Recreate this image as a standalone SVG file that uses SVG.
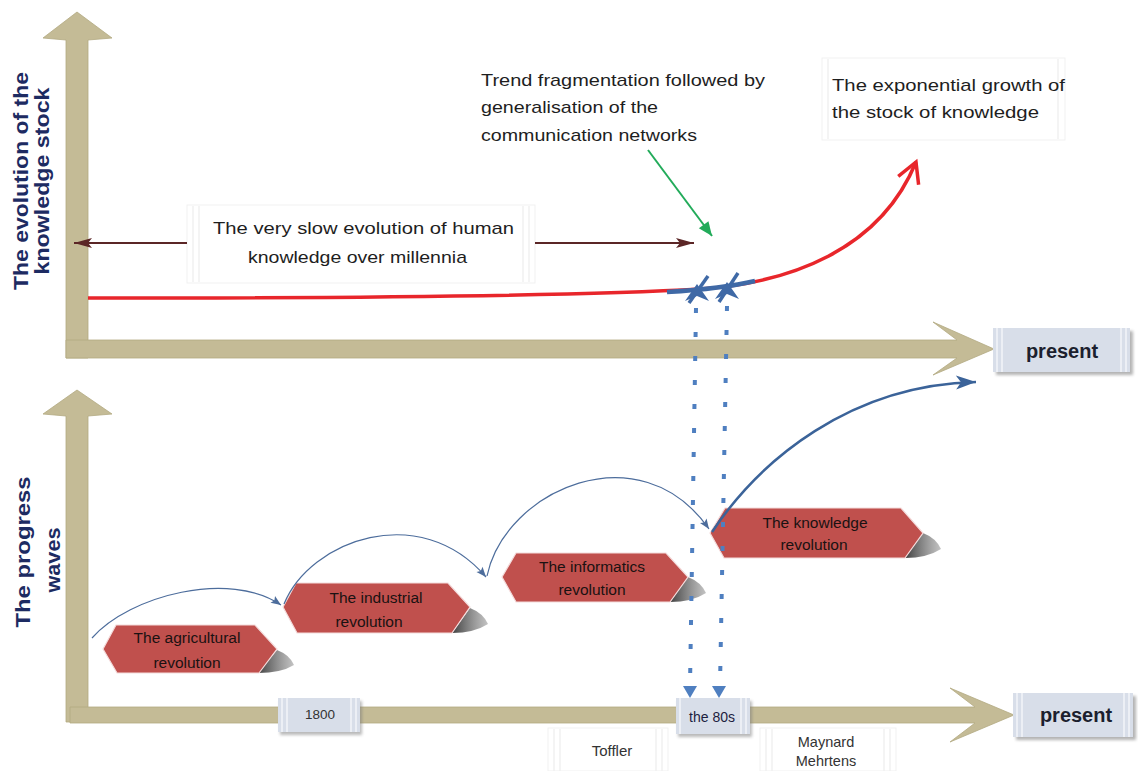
<svg xmlns="http://www.w3.org/2000/svg" width="1138" height="771" viewBox="0 0 1138 771">
<defs>
<style>
.t{font-family:"Liberation Sans",Arial,sans-serif;}
.lbl{font-size:17px;fill:#1e1e1e;}
.ax{font-size:20px;font-weight:bold;fill:#1d2b62;}
.hx{font-size:15.5px;fill:#1a1212;text-anchor:middle;}
.hex{fill:#c0504d;stroke:#f4dcdc;stroke-width:1.2;}
.shd{fill:url(#shd);}
.axis{fill:#c4bb96;stroke:#b3a982;stroke-width:0.8;}
.pbox{fill:#d8dee9;}
.strp{stroke:#f3f5f9;stroke-width:1.5;}
.faint{fill:#ffffff;stroke:#f1f1f1;stroke-width:1;}
.fstrp{stroke:#f0f0f0;stroke-width:1.5;}
.thin{fill:none;stroke:#4d6d9c;stroke-width:1.2;}
.dot{fill:none;stroke:#4f7fc0;stroke-width:4;stroke-dasharray:5 19;}
</style>
<linearGradient id="shd" x1="0" y1="0" x2="1" y2="0">
<stop offset="0" stop-color="#3f3f3f"/><stop offset="1" stop-color="#9a9a9a" stop-opacity="0.6"/>
</linearGradient>
<marker id="brown" viewBox="-20 -6 22 12" refX="0" refY="0" markerWidth="22" markerHeight="12" markerUnits="userSpaceOnUse" orient="auto">
<path d="M0,0 L-18,-5 L-14,0 L-18,5 Z" fill="#5b2626"/>
</marker>
<marker id="green" viewBox="-16 -7 18 14" refX="0" refY="0" markerWidth="18" markerHeight="14" markerUnits="userSpaceOnUse" orient="auto">
<path d="M0,0 L-14,-6 L-14,6 Z" fill="#22ab5a"/>
</marker>
<marker id="red" viewBox="-26 -16 30 32" refX="0" refY="0" markerWidth="30" markerHeight="32" markerUnits="userSpaceOnUse" orient="auto">
<path d="M-20,-11 L0,0 L-20,11" fill="none" stroke="#e8262b" stroke-width="3.5" stroke-linejoin="miter"/>
</marker>
<marker id="bsm" viewBox="-12 -5 14 10" refX="0" refY="0" markerWidth="14" markerHeight="10" markerUnits="userSpaceOnUse" orient="auto">
<path d="M0,0 L-10,-4 L-8,0 L-10,4 Z" fill="#4d6d9c"/>
</marker>
<marker id="bbig" viewBox="-22 -8 24 16" refX="0" refY="0" markerWidth="24" markerHeight="16" markerUnits="userSpaceOnUse" orient="auto">
<path d="M0,0 L-20,-7 L-15,0 L-20,7 Z" fill="#3b6399"/>
</marker>
<filter id="sh" x="-10%" y="-10%" width="130%" height="150%">
<feGaussianBlur stdDeviation="1.5"/>
</filter>
</defs>

<rect width="1138" height="771" fill="#ffffff"/>

<g id="axes">
<polygon class="axis" points="66,358 66,40 43,38 77,12 112,38 88,40 88,358"/>
<polygon class="axis" points="66,340 957,340 933,322 994,349 933,375 957,358 66,358"/>
<polygon class="axis" points="66,722 66,416 43,414 77,390 112,414 88,416 88,722"/>
<polygon class="axis" points="70,707 975,707 950,688 1014,715 950,742 975,723 70,723"/>
</g>

<g id="label-boxes">
<rect class="faint" x="187" y="205" width="348" height="78"/>
<line class="fstrp" x1="193" y1="206" x2="193" y2="282"/><line class="fstrp" x1="199" y1="206" x2="199" y2="282"/>
<line class="fstrp" x1="523" y1="206" x2="523" y2="282"/><line class="fstrp" x1="529" y1="206" x2="529" y2="282"/>
<rect class="faint" x="822" y="58" width="243" height="82"/>
<line class="fstrp" x1="828" y1="59" x2="828" y2="139"/><line class="fstrp" x1="1058" y1="59" x2="1058" y2="139"/>
<rect class="faint" x="548" y="728" width="120" height="43"/>
<line class="fstrp" x1="554" y1="729" x2="554" y2="771"/><line class="fstrp" x1="560" y1="729" x2="560" y2="771"/>
<line class="fstrp" x1="656" y1="729" x2="656" y2="771"/><line class="fstrp" x1="662" y1="729" x2="662" y2="771"/>
<rect class="faint" x="760" y="728" width="136" height="43"/>
<line class="fstrp" x1="766" y1="729" x2="766" y2="771"/><line class="fstrp" x1="772" y1="729" x2="772" y2="771"/>
<line class="fstrp" x1="884" y1="729" x2="884" y2="771"/><line class="fstrp" x1="890" y1="729" x2="890" y2="771"/>
</g>

<g id="text-very-slow">
<text class="t lbl" x="213" y="234" textLength="301" lengthAdjust="spacingAndGlyphs">The very slow evolution of human</text>
<text class="t lbl" x="248" y="263" textLength="219" lengthAdjust="spacingAndGlyphs">knowledge over millennia</text>
</g>
<g id="text-trend">
<text class="t lbl" x="481" y="86" textLength="284" lengthAdjust="spacingAndGlyphs">Trend fragmentation followed by</text>
<text class="t lbl" x="481" y="113" textLength="177" lengthAdjust="spacingAndGlyphs">generalisation of the</text>
<text class="t lbl" x="481" y="141" textLength="216" lengthAdjust="spacingAndGlyphs">communication networks</text>
</g>
<g id="text-exponential">
<text class="t lbl" x="832" y="91" textLength="233" lengthAdjust="spacingAndGlyphs">The exponential growth of</text>
<text class="t lbl" x="832" y="118" textLength="207" lengthAdjust="spacingAndGlyphs">the stock of knowledge</text>
</g>
<g id="axis-label-top">
<text class="t ax" transform="translate(28,181) rotate(-90)" text-anchor="middle" textLength="218" lengthAdjust="spacingAndGlyphs">The evolution of the</text>
<text class="t ax" transform="translate(49,181) rotate(-90)" text-anchor="middle" textLength="187" lengthAdjust="spacingAndGlyphs">knowledge stock</text>
</g>
<g id="axis-label-bottom">
<text class="t ax" transform="translate(30,552) rotate(-90)" text-anchor="middle" textLength="151" lengthAdjust="spacingAndGlyphs">The progress</text>
<text class="t ax" transform="translate(60,560) rotate(-90)" text-anchor="middle" textLength="65" lengthAdjust="spacingAndGlyphs">waves</text>
</g>

<g id="present-top">
<rect x="996" y="331" width="137" height="44" fill="#777" opacity="0.55" filter="url(#sh)"/>
<rect class="pbox" x="993" y="328" width="137" height="44"/>
<line class="strp" x1="997" y1="328" x2="997" y2="372"/><line class="strp" x1="1002" y1="328" x2="1002" y2="372"/>
<line class="strp" x1="1121" y1="328" x2="1121" y2="372"/><line class="strp" x1="1126" y1="328" x2="1126" y2="372"/>
<text class="t" x="1062" y="358" text-anchor="middle" font-size="20" font-weight="bold" fill="#1c1f2e">present</text>
</g>
<g id="present-bottom">
<rect x="1016" y="696" width="120" height="44" fill="#777" opacity="0.55" filter="url(#sh)"/>
<rect class="pbox" x="1013" y="693" width="120" height="44"/>
<line class="strp" x1="1017" y1="693" x2="1017" y2="737"/><line class="strp" x1="1022" y1="693" x2="1022" y2="737"/>
<line class="strp" x1="1124" y1="693" x2="1124" y2="737"/><line class="strp" x1="1129" y1="693" x2="1129" y2="737"/>
<text class="t" x="1076" y="722" text-anchor="middle" font-size="20" font-weight="bold" fill="#1c1f2e">present</text>
</g>
<g id="tick-1800">
<rect x="280" y="701" width="82" height="34" fill="#777" opacity="0.5" filter="url(#sh)"/>
<rect class="pbox" x="278" y="698" width="82" height="34"/>
<line class="strp" x1="282" y1="698" x2="282" y2="732"/><line class="strp" x1="287" y1="698" x2="287" y2="732"/>
<line class="strp" x1="351" y1="698" x2="351" y2="732"/><line class="strp" x1="356" y1="698" x2="356" y2="732"/>
<text class="t" x="320" y="719" text-anchor="middle" font-size="13.5" fill="#333">1800</text>
</g>
<g id="tick-80s">
<rect x="678" y="701" width="74" height="36" fill="#777" opacity="0.5" filter="url(#sh)"/>
<rect class="pbox" x="676" y="698" width="74" height="36"/>
<line class="strp" x1="680" y1="698" x2="680" y2="734"/><line class="strp" x1="741" y1="698" x2="741" y2="734"/><line class="strp" x1="746" y1="698" x2="746" y2="734"/>
<text class="t" x="712" y="722" text-anchor="middle" font-size="14" fill="#1d2140">the 80s</text>
</g>
<g id="label-toffler">
<text class="t" x="612" y="756" text-anchor="middle" font-size="15" fill="#333">Toffler</text>
</g>
<g id="label-maynard">
<text class="t" x="826" y="747" text-anchor="middle" font-size="14.5" fill="#333">Maynard</text>
<text class="t" x="826" y="766" text-anchor="middle" font-size="14.5" fill="#333">Mehrtens</text>
</g>

<g id="node-agricultural">
<path class="shd" d="M258,673 L277,650 Q290,655 294,665 Q281,673 258,673 Z"/>
<polygon class="hex" points="103,649 116,625 255,625 277,649 259,673 117,673"/>
<text class="t hx" x="187" y="643">The agricultural</text>
<text class="t hx" x="187" y="668">revolution</text>
</g>
<g id="node-industrial">
<path class="shd" d="M452,633 L470,608 Q483,613 488,624 Q474,633 452,633 Z"/>
<polygon class="hex" points="283,607 296,583 448,583 470,607 452,633 297,633"/>
<text class="t hx" x="376" y="603">The industrial</text>
<text class="t hx" x="369" y="627">revolution</text>
</g>
<g id="node-informatics">
<path class="shd" d="M670,602 L688,577 Q701,582 706,593 Q692,602 670,602 Z"/>
<polygon class="hex" points="502,577 516,553 666,553 688,577 670,602 516,602"/>
<text class="t hx" x="592" y="572">The informatics</text>
<text class="t hx" x="592" y="595">revolution</text>
</g>
<g id="node-knowledge">
<path class="shd" d="M905,558 L923,533 Q936,538 941,549 Q927,558 905,558 Z"/>
<polygon class="hex" points="710,533 725,508 901,508 923,533 905,558 724,558"/>
<text class="t hx" x="815" y="528">The knowledge</text>
<text class="t hx" x="814" y="550">revolution</text>
</g>

<g id="connectors">
<line x1="187" y1="243" x2="74" y2="243" stroke="#5b2626" stroke-width="2" marker-end="url(#brown)"/>
<line x1="535" y1="243" x2="694" y2="243" stroke="#5b2626" stroke-width="2" marker-end="url(#brown)"/>
<line x1="648" y1="150" x2="712" y2="236" stroke="#22ab5a" stroke-width="2" marker-end="url(#green)"/>
<path d="M88,298 C400,298 600,295 700,289 C790,283 880,250 916,162" fill="none" stroke="#e8262b" stroke-width="3.5" marker-end="url(#red)"/>
<path d="M667,292 C700,290 730,287 755,281" fill="none" stroke="#3f69a6" stroke-width="4.5"/>
<line x1="689" y1="303" x2="708" y2="276" stroke="#3f69a6" stroke-width="3.5"/>
<line x1="719" y1="302" x2="738" y2="273" stroke="#3f69a6" stroke-width="3.5"/>
<path d="M697,284 L685,301 L697,296 L709,301 Z" fill="#3f69a6"/>
<path d="M727,282 L715,299 L727,294 L739,299 Z" fill="#3f69a6"/>
<line class="dot" x1="696" y1="308" x2="690" y2="686"/>
<line class="dot" x1="727" y1="306" x2="720" y2="686"/>
<path d="M690,698 L683,686 L697,686 Z" fill="#4f7fc0"/>
<path d="M719,698 L712,686 L726,686 Z" fill="#4f7fc0"/>
<path class="thin" d="M92,638 C130,595 230,570 281,605" marker-end="url(#bsm)"/>
<path class="thin" d="M284,604 C310,540 420,500 486,577" marker-end="url(#bsm)"/>
<path class="thin" d="M487,576 C505,490 640,430 709,529" marker-end="url(#bsm)"/>
<path d="M712,532 C760,460 850,385 976,382" fill="none" stroke="#3b6399" stroke-width="2.5" marker-end="url(#bbig)"/>
</g>
</svg>
